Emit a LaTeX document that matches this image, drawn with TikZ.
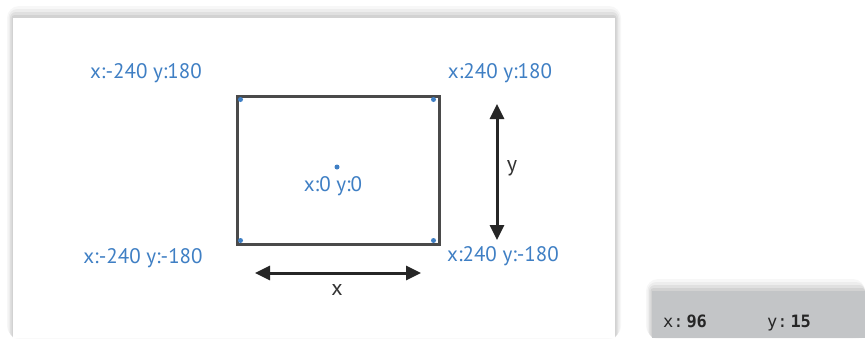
\documentclass[tikz,border=0pt]{standalone}
\usepackage{fontspec}
\setmainfont{PT Sans}
\newfontfamily\monofont{DejaVu Sans Mono}
\usetikzlibrary{arrows.meta,positioning,calc}
\definecolor{coordblue}{HTML}{3F7FC4}
\definecolor{framegray}{HTML}{4A4A4A}
\definecolor{bargray}{HTML}{C3C5C7}
\tikzset{
  coord/.style={font=\fontsize{21}{24}\selectfont, text=coordblue, inner sep=1pt},
  axislbl/.style={font=\fontsize{22}{25}\selectfont, text=black!80, inner sep=1pt},
  dot/.style={circle, fill=coordblue, inner sep=0pt, minimum size=5pt},
  stage/.style={draw=framegray, line width=3pt},
  dim/.style={{Triangle[length=15pt,width=14pt]}-{Triangle[length=15pt,width=14pt]}, line width=3pt, draw=black!85},
  readout/.style={font=\monofont\fontsize{17}{19}\selectfont, text=black!85, inner sep=0pt, anchor=base west}
}
\begin{document}
\begin{tikzpicture}[x=1pt, y=-1pt]
  \useasboundingbox (0,0) rectangle (865,338);
  \fill[white] (0,0) rectangle (865,338);
  % soft shadows behind the two panels
  \foreach \s/\o in {12/0.03, 9/0.04, 6/0.05, 3/0.06}{
    \fill[black, opacity=\o, rounded corners=\s pt] (13-\s/2,18-\s) rectangle (615+\s/2,338);
    \fill[black, opacity=\o, rounded corners=\s pt] (652-\s/2,291-\s) rectangle (865,338);
  }
  \fill[white] (13,18) rectangle (615,338);
  \fill[bargray] (652,291) rectangle (865,338);

  % the stage
  \coordinate (tl) at (237,96);
  \coordinate (br) at (439,244);
  \draw[stage] (tl) rectangle (br);
  \node[dot] (dtl) at (240.5,99.5) {};
  \node[dot] (dtr) at (433.5,99.5) {};
  \node[dot] (dbl) at (240.5,240.5) {};
  \node[dot] (dbr) at (433.5,240.5) {};
  \node[dot] (dc) at (337,167) {};

  \node[coord] (ltop) at (146,73) {x:-240 y:180};
  \node[coord] (rtop) at (500,73) {x:240 y:180};
  \node[coord] (lbot) at (143,258) {x:-240 y:-180};
  \node[coord] (rbot) at (503,256) {x:240 y:-180};
  \node[coord] (ctr) at (333,186) {x:0 y:0};

  % size arrows
  \coordinate (yt) at (497,104);
  \coordinate (yb) at (497,240);
  \draw[dim] (yt) -- (yb);
  \node[axislbl] (ylbl) at (512,168) {y};
  \coordinate (xl) at (255,273);
  \coordinate (xr) at (421,273);
  \draw[dim] (xl) -- (xr);
  \node[axislbl] (xlbl) at (337,290) {x};

  % mouse readout
  \node[readout] (mx) at (663,327) {x:\,\textbf{96}};
  \node[readout] (my) at (767,327) {y:\,\textbf{15}};
\end{tikzpicture}
\end{document}
